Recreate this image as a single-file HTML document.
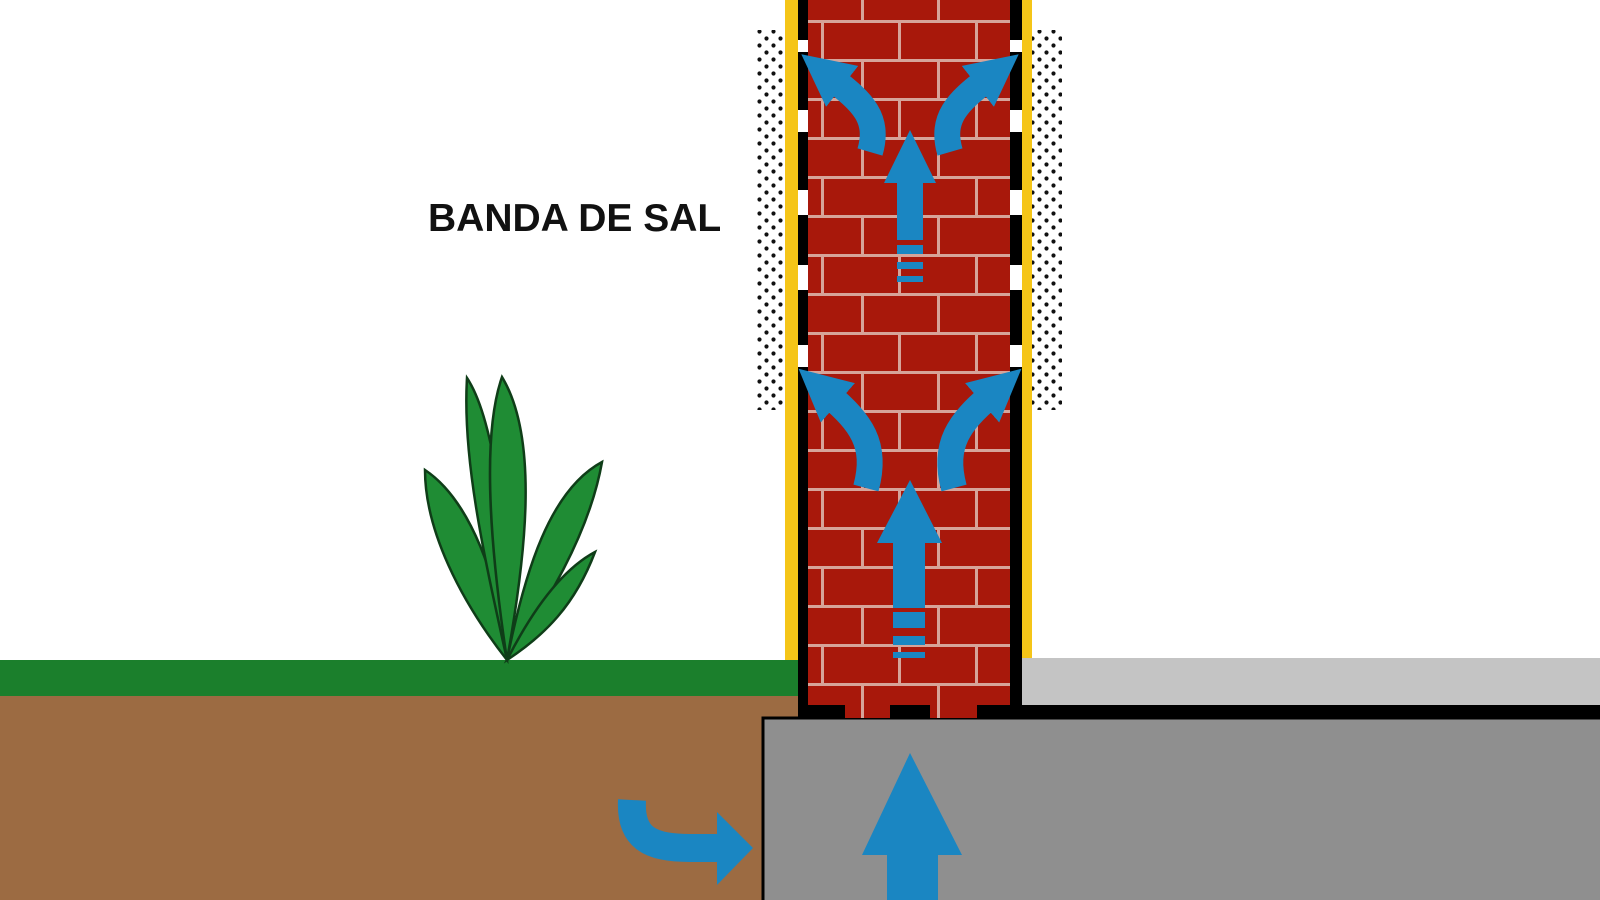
<!DOCTYPE html>
<html><head><meta charset="utf-8"><style>html,body{margin:0;padding:0;background:#fff}svg{display:block}</style></head>
<body>
<svg width="1600" height="900" viewBox="0 0 1600 900" xmlns="http://www.w3.org/2000/svg">
<defs>
<pattern id="brick" patternUnits="userSpaceOnUse" x="808" y="20" width="154" height="78">
<rect width="154" height="78" fill="#a8180b"/>
<rect x="0" y="0" width="154" height="3" fill="#d6a49a"/>
<rect x="0" y="39" width="154" height="3" fill="#d6a49a"/>
<rect x="13" y="0" width="3" height="39" fill="#d6a49a"/>
<rect x="90" y="0" width="3" height="39" fill="#d6a49a"/>
<rect x="53" y="39" width="3" height="39" fill="#d6a49a"/>
<rect x="129" y="39" width="3" height="39" fill="#d6a49a"/>
</pattern>
<pattern id="dots" patternUnits="userSpaceOnUse" x="0" y="0" width="14" height="14">
<circle cx="3.5" cy="3.5" r="2.1" fill="#111"/>
<circle cx="10.5" cy="10.5" r="2.1" fill="#111"/>
</pattern>
<marker id="ah" viewBox="0 0 10 10" refX="2" refY="5" markerWidth="2" markerHeight="2" orient="auto" markerUnits="strokeWidth">
<path d="M0,0 L10,5 L0,10 z" fill="#1a86c2"/>
</marker>
</defs>
<rect x="0" y="695" width="800" height="205" fill="#9c6b42"/>
<rect x="0" y="660" width="800" height="36" fill="#1b7f2c"/>
<rect x="763" y="718" width="840" height="190" fill="#8f8f8f" stroke="#000" stroke-width="3"/>
<rect x="1022" y="658" width="578" height="47" fill="#c4c4c4"/>
<rect x="1010" y="705" width="590" height="13" fill="#000"/>
<rect x="755" y="30" width="32" height="380" fill="url(#dots)"/>
<rect x="1030" y="30" width="32" height="380" fill="url(#dots)"/>
<rect x="785" y="0" width="13" height="660" fill="#f5c518"/>
<rect x="1022" y="0" width="10" height="658" fill="#f5c518"/>
<rect x="798" y="0" width="10" height="718" fill="#000"/>
<rect x="1010" y="0" width="12" height="718" fill="#000"/>
<rect x="808" y="0" width="202" height="705" fill="url(#brick)"/>
<g fill="#fff">
<rect x="798" y="40" width="10" height="12"/><rect x="798" y="110" width="10" height="22"/><rect x="798" y="190" width="10" height="25"/><rect x="798" y="265" width="10" height="25"/><rect x="798" y="345" width="10" height="22"/>
<rect x="1010" y="40" width="12" height="12"/><rect x="1010" y="110" width="12" height="22"/><rect x="1010" y="190" width="12" height="25"/><rect x="1010" y="265" width="12" height="25"/><rect x="1010" y="345" width="12" height="22"/>
</g>
<rect x="808" y="705" width="202" height="13" fill="#000"/>
<rect x="845" y="705" width="45" height="13" fill="url(#brick)"/>
<rect x="930" y="705" width="47" height="13" fill="url(#brick)"/>
<g fill="#1a86c2">
<polygon points="910,130 936,183 923,183 923,240 897,240 897,183 884,183"/>
<rect x="897" y="245" width="26" height="9"/><rect x="897" y="262" width="26" height="7"/><rect x="897" y="276" width="26" height="6"/>
<polygon points="910,480 942,543 925,543 925,608 893,608 893,543 877,543"/>
<rect x="893" y="612" width="32" height="16"/><rect x="893" y="636" width="32" height="9"/><rect x="893" y="652" width="32" height="6"/>
<polygon points="910,753 962,855 938,855 938,900 887,900 887,855 862,855"/>
<polygon points="753,848 717,812 717,885"/>
</g>
<path d="M632,800 C630,838 650,848 690,848 L720,848" fill="none" stroke="#1a86c2" stroke-width="28"/>
<g fill="none" stroke="#1a86c2" stroke-width="26" marker-end="url(#ah)">
<path d="M870,152 C880,118 862,102 834,80"/>
<path d="M950,152 C940,118 958,102 986,80"/>
<path d="M866,488 C878,444 860,422 830,396"/>
<path d="M954,488 C942,444 960,422 990,396"/>
</g>
<g fill="#1f8c34" stroke="#0f3d18" stroke-width="2.5">
<path d="M507,660 C460,600 425,530 425,470 C470,500 500,580 507,660 Z"/>
<path d="M507,660 C485,560 462,460 467,378 C495,420 510,540 507,660 Z"/>
<path d="M507,660 C525,560 540,440 502,377 C480,440 492,560 507,660 Z"/>
<path d="M507,660 C525,570 550,490 602,462 C590,530 550,600 507,660 Z"/>
<path d="M507,660 C535,605 565,568 595,552 C575,605 545,635 507,660 Z"/>
</g>
<text x="428" y="231" font-family="Liberation Sans, Arial, sans-serif" font-weight="bold" font-size="39" fill="#111">BANDA DE SAL</text>
</svg>
</body></html>
